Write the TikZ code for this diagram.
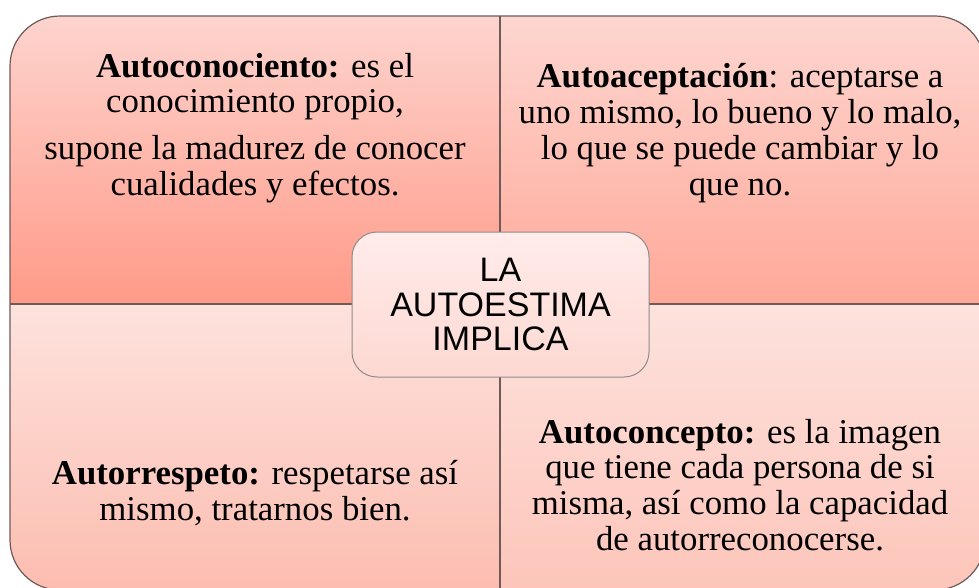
\documentclass[tikz,border=0pt]{standalone}
\usepackage{fontspec}
\setmainfont{Liberation Serif}
\newfontfamily\arialfont{Liberation Sans}
\definecolor{qline}{HTML}{6E5A57}
\definecolor{tlT}{HTML}{FDD4CE}
\definecolor{tlB}{HTML}{FF9A88}
\definecolor{trT}{HTML}{FDD6D0}
\definecolor{trB}{HTML}{FFA898}
\definecolor{blT}{HTML}{FDE2DD}
\definecolor{blB}{HTML}{FCBDB0}
\definecolor{brT}{HTML}{FDE2DD}
\definecolor{brB}{HTML}{FDC5BA}
\definecolor{cT}{HTML}{FFECEA}
\definecolor{cB}{HTML}{FDD8D2}
\begin{document}
\begin{tikzpicture}[x=1pt,y=-1pt,
  quadline/.style={draw=qline,line width=1.2pt},
  qtext/.style={font=\fontsize{34.8}{35.8}\selectfont,align=center,text=black,inner sep=0pt},
  centerbox/.style={draw=gray!90,line width=1pt,rounded corners=25pt,minimum width=297pt,minimum height=145pt,
    top color=cT,bottom color=cB,align=center,font=\arialfont\fontsize{34}{34.5}\selectfont,inner sep=0pt}]
\useasboundingbox (0,0) rectangle (979,587);
\clip (0,0) rectangle (979,587);
\begin{scope}
  \clip[rounded corners=50pt] (10,16) rectangle (985,590);
  \shade[top color=tlT,bottom color=tlB] (10,16) rectangle (500,304);
  \shade[top color=trT,bottom color=trB] (500,16) rectangle (985,304);
  \shade[top color=blT,bottom color=blB] (10,304) rectangle (500,590);
  \shade[top color=brT,bottom color=brB] (500,304) rectangle (985,590);
\end{scope}
\draw[quadline,rounded corners=50pt] (10,16) rectangle (985,590);
\coordinate (vt) at (500,16);
\coordinate (vb) at (500,590);
\coordinate (hl) at (10,304);
\coordinate (hr) at (985,304);
\draw[quadline] (vt) -- (vb);
\draw[quadline] (hl) -- (hr);
\node[qtext] (tl) at (255,128) {\textbf{Autoconociento:} es el\\ conocimiento propio,\\[11pt] supone la madurez de conocer\\ cualidades y efectos.};
\node[qtext] (tr) at (740,133) {\textbf{Autoaceptación}: aceptarse a\\ uno mismo, lo bueno y lo malo,\\ lo que se puede cambiar y lo\\ que no.};
\node[qtext] (bl) at (255,493) {\textbf{Autorrespeto:} respetarse así\\ mismo, tratarnos bien.};
\node[qtext] (br) at (740,485) {\textbf{Autoconcepto:} es la imagen\\ que tiene cada persona de si\\ misma, así como la capacidad\\ de autorreconocerse.};
\node[centerbox] (center) at (500.5,304.5) {LA\\ AUTOESTIMA\\ IMPLICA};
\end{tikzpicture}
\end{document}
